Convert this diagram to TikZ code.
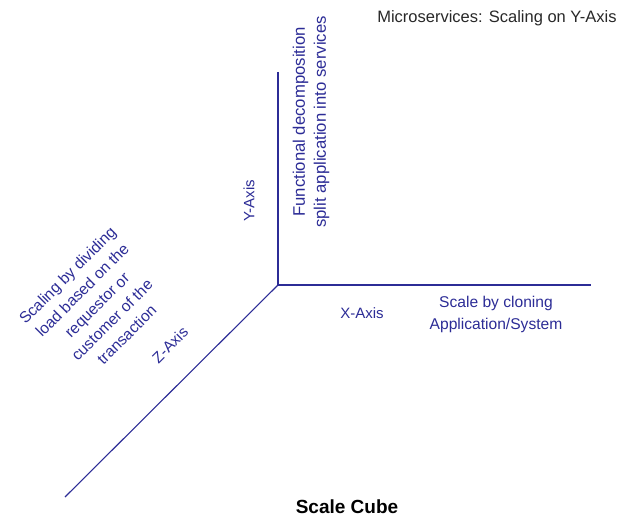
\documentclass[tikz,border=0pt]{standalone}
\usepackage{fontspec}
\setmainfont{Liberation Sans}
\definecolor{axisblue}{RGB}{44,44,150}
\definecolor{titlegray}{RGB}{40,40,40}
\begin{document}
\begin{tikzpicture}[x=1pt,y=-1pt,
  axisline/.style={draw=axisblue,line width=1.1pt},
  lbl/.style={text=axisblue,inner sep=0pt,font=\fontsize{15}{18}\selectfont,align=center},
]
\useasboundingbox (0,0) rectangle (621,518);
\coordinate (o) at (278,285);
\coordinate (ytop) at (278,72);
\coordinate (xend) at (591,285);
\coordinate (zend) at (65,497);
\draw[axisline] (ytop) -- (o) -- (xend);
\draw[axisline] (o) -- (zend);
\node[inner sep=0pt,text=titlegray,font=\fontsize{16.5}{18}\selectfont] (title) at (497,18) {Microservices: Scaling on Y-Axis};
\node[lbl,rotate=90,font=\fontsize{16.7}{21}\selectfont] (func) at (311,122) {Functional decomposition\\split application into services};
\node[lbl,rotate=90] (yaxis) at (249,201) {Y-Axis};
\node[lbl] (xaxis) at (362,313) {X-Axis};
\node[lbl,font=\fontsize{15.6}{22}\selectfont] (clone) at (496,314) {Scale by cloning\\Application/System};
\node[lbl,rotate=45,font=\fontsize{15.6}{21}\selectfont] (zdesc) at (97,305) {Scaling by dividing\\load based on the\\requestor or\\customer of the\\transaction};
\node[lbl,rotate=45,font=\fontsize{15.3}{18}\selectfont] (zaxis) at (170,345) {Z-Axis};
\node[inner sep=0pt,font=\bfseries\fontsize{19}{20}\selectfont] (cap) at (347,507) {Scale Cube};
\end{tikzpicture}
\end{document}
